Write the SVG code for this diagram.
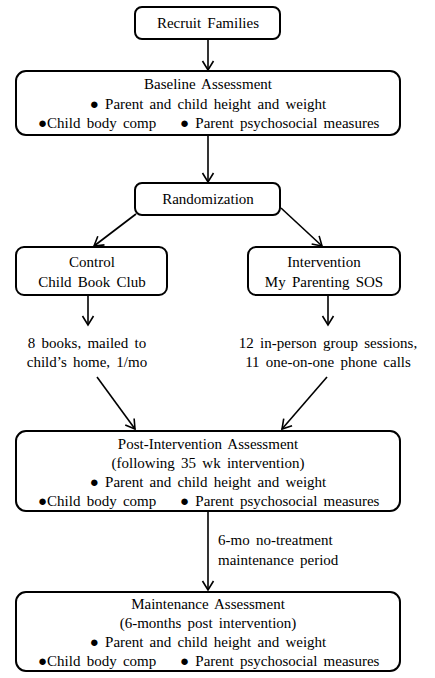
<svg xmlns="http://www.w3.org/2000/svg" width="435" height="678" viewBox="0 0 435 678">
<style>
.box{fill:#fff;stroke:#000;stroke-width:2}
text{font-family:"Liberation Serif","Times New Roman",serif;font-size:15px;fill:#000;word-spacing:2.5px}
.m{text-anchor:middle}
.c{fill:none;stroke:#000;stroke-width:1.6}
</style>
<defs>
<marker id="ah" markerUnits="userSpaceOnUse" markerWidth="14" markerHeight="14" refX="10" refY="6" orient="auto" viewBox="0 0 14 12">
<path d="M1,0.5 L10,6 L1,11.5" fill="none" stroke="#000" stroke-width="1.6"/>
</marker>
</defs>
<rect width="435" height="678" fill="#fff"/>
<g id="connectors">
<line class="c" x1="208" y1="39" x2="208" y2="70" marker-end="url(#ah)"/>
<line class="c" x1="208" y1="135" x2="208" y2="182" marker-end="url(#ah)"/>
<line class="c" x1="136" y1="214" x2="94" y2="246" marker-end="url(#ah)"/>
<line class="c" x1="281" y1="208" x2="322" y2="246" marker-end="url(#ah)"/>
<line class="c" x1="88" y1="295" x2="88" y2="325" marker-end="url(#ah)"/>
<line class="c" x1="328" y1="295" x2="328" y2="325" marker-end="url(#ah)"/>
<line class="c" x1="97" y1="377" x2="135" y2="429" marker-end="url(#ah)"/>
<line class="c" x1="327" y1="377" x2="282" y2="429" marker-end="url(#ah)"/>
<line class="c" x1="208" y1="511" x2="208" y2="590" marker-end="url(#ah)"/>
<text x="218" y="545">6-mo no-treatment</text>
<text x="218" y="565">maintenance period</text>
</g>
<g id="recruit">
<rect class="box" x="135" y="7" width="145" height="32" rx="7"/>
<text class="m" x="208" y="28">Recruit Families</text>
</g>
<g id="baseline">
<rect class="box" x="16" y="71" width="384" height="64" rx="10"/>
<text class="m" x="208" y="89">Baseline Assessment</text>
<text class="m" x="208" y="109">● Parent and child height and weight</text>
<text x="38" y="128">●Child body comp</text>
<text x="180" y="128">● Parent psychosocial measures</text>
</g>
<g id="randomization">
<rect class="box" x="135" y="183" width="145" height="32" rx="7"/>
<text class="m" x="208" y="204">Randomization</text>
</g>
<g id="control">
<rect class="box" x="16" y="247" width="151" height="48" rx="8"/>
<text class="m" x="92" y="267">Control</text>
<text class="m" x="92" y="287">Child Book Club</text>
</g>
<g id="intervention">
<rect class="box" x="248" y="247" width="152" height="48" rx="8"/>
<text class="m" x="324" y="267">Intervention</text>
<text class="m" x="324" y="287">My Parenting SOS</text>
</g>
<g id="control-detail">
<text class="m" x="87" y="348">8 books, mailed to</text>
<text class="m" x="87" y="367">child’s home, 1/mo</text>
</g>
<g id="intervention-detail">
<text class="m" x="328" y="348">12 in-person group sessions,</text>
<text class="m" x="328" y="367">11 one-on-one phone calls</text>
</g>
<g id="post">
<rect class="box" x="16" y="431" width="384" height="80" rx="10"/>
<text class="m" x="208" y="449">Post-Intervention Assessment</text>
<text class="m" x="208" y="468">(following 35 wk intervention)</text>
<text class="m" x="208" y="487">● Parent and child height and weight</text>
<text x="38" y="506">●Child body comp</text>
<text x="180" y="506">● Parent psychosocial measures</text>
</g>
<g id="maintenance">
<rect class="box" x="16" y="592" width="384" height="79" rx="10"/>
<text class="m" x="208" y="609">Maintenance Assessment</text>
<text class="m" x="208" y="628">(6-months post intervention)</text>
<text class="m" x="208" y="647">● Parent and child height and weight</text>
<text x="38" y="666">●Child body comp</text>
<text x="180" y="666">● Parent psychosocial measures</text>
</g>
</svg>
